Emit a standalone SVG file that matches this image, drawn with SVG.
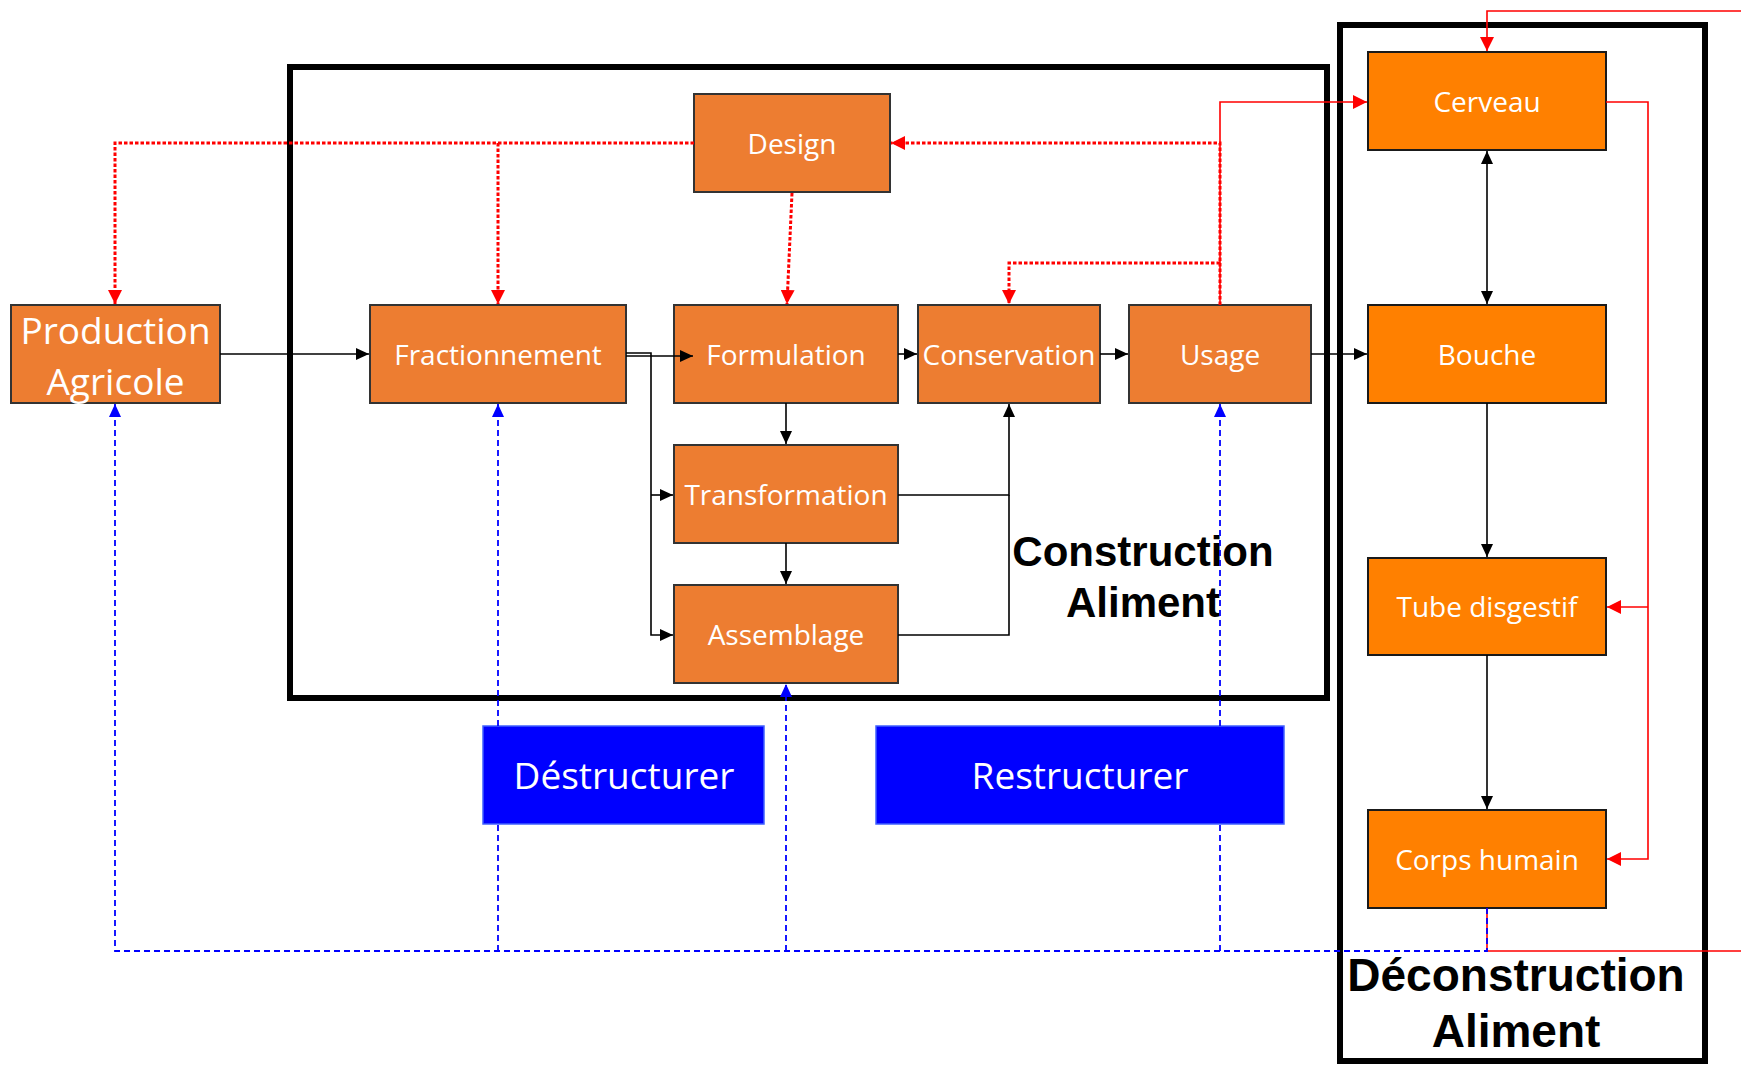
<svg xmlns="http://www.w3.org/2000/svg" width="1741" height="1065" viewBox="0 0 1741 1065">
  <style>
    .frame { fill: none; stroke: #000; stroke-width: 6; }
    .build rect { fill: #ED7D31; stroke: #333; stroke-width: 2; }
    .body rect { fill: #FF8000; stroke: #1a1a1a; stroke-width: 2; }
    .op rect { fill: #0000FF; stroke: #4060ff; stroke-width: 1.5; }
    .node text { fill: #fff; font-family: "Open Sans", "Noto Sans", sans-serif; font-size: 28px; text-anchor: middle; }
    .op text, .big { font-size: 37px !important; }
    .label { font-family: "Liberation Sans", Arial, sans-serif; font-weight: bold; fill: #000; text-anchor: middle; }
    .flow { fill: none; stroke: #000; stroke-width: 1.6; marker-end: url(#arrowK); }
    .fb { fill: none; stroke: #FF0000; stroke-width: 3; stroke-dasharray: 3.5 2; marker-end: url(#arrowR); }
    .sig { fill: none; stroke: #FF0000; stroke-width: 1.6; }
    .sig.a { marker-end: url(#arrowR); }
    .ret { fill: none; stroke: #0000FF; stroke-width: 1.8; stroke-dasharray: 6 4; }
    .ret.a { marker-end: url(#arrowB); }
  </style>
  <defs>
    <marker id="arrowK" markerUnits="userSpaceOnUse" markerWidth="13" markerHeight="12" refX="13" refY="6" orient="auto-start-reverse">
      <path d="M0,0 L13,6 L0,12 z" fill="#000"/>
    </marker>
    <marker id="arrowR" markerUnits="userSpaceOnUse" markerWidth="14" markerHeight="14" refX="14" refY="7" orient="auto">
      <path d="M0,0 L14,7 L0,14 z" fill="#FF0000"/>
    </marker>
    <marker id="arrowB" markerUnits="userSpaceOnUse" markerWidth="13" markerHeight="12" refX="13" refY="6" orient="auto">
      <path d="M0,0 L13,6 L0,12 z" fill="#0000FF"/>
    </marker>
  </defs>

  <rect width="1741" height="1065" fill="#fff"/>

  <!-- stage frames -->
  <g id="frame-construction">
    <rect class="frame" x="290" y="67" width="1037" height="631"/>
    <text class="label" font-size="42" x="1143" y="566">Construction</text>
    <text class="label" font-size="42" x="1143" y="617">Aliment</text>
  </g>
  <g id="frame-deconstruction">
    <rect class="frame" x="1340" y="25" width="365" height="1036"/>
    <text class="label" font-size="46" x="1516" y="991">Déconstruction</text>
    <text class="label" font-size="46" x="1516" y="1047">Aliment</text>
  </g>

  <!-- process nodes -->
  <g id="production" class="node build">
    <rect x="11" y="305" width="209" height="98"/>
    <text class="big" x="115.5" y="344">Production</text>
    <text class="big" x="115.5" y="395">Agricole</text>
  </g>
  <g id="fractionnement" class="node build">
    <rect x="370" y="305" width="256" height="98"/>
    <text x="498" y="365">Fractionnement</text>
  </g>
  <g id="design" class="node build">
    <rect x="694" y="94" width="196" height="98"/>
    <text x="792" y="154">Design</text>
  </g>
  <g id="formulation" class="node build">
    <rect x="674" y="305" width="224" height="98"/>
    <text x="786" y="365">Formulation</text>
  </g>
  <g id="conservation" class="node build">
    <rect x="918" y="305" width="182" height="98"/>
    <text x="1009" y="365">Conservation</text>
  </g>
  <g id="usage" class="node build">
    <rect x="1129" y="305" width="182" height="98"/>
    <text x="1220" y="365">Usage</text>
  </g>
  <g id="transformation" class="node build">
    <rect x="674" y="445" width="224" height="98"/>
    <text x="786" y="505">Transformation</text>
  </g>
  <g id="assemblage" class="node build">
    <rect x="674" y="585" width="224" height="98"/>
    <text x="786" y="645">Assemblage</text>
  </g>

  <g id="cerveau" class="node body">
    <rect x="1368" y="52" width="238" height="98"/>
    <text x="1487" y="112">Cerveau</text>
  </g>
  <g id="bouche" class="node body">
    <rect x="1368" y="305" width="238" height="98"/>
    <text x="1487" y="365">Bouche</text>
  </g>
  <g id="tube" class="node body">
    <rect x="1368" y="558" width="238" height="97"/>
    <text x="1487" y="617">Tube disgestif</text>
  </g>
  <g id="corps" class="node body">
    <rect x="1368" y="810" width="238" height="98"/>
    <text x="1487" y="870">Corps humain</text>
  </g>

  <g id="destructurer" class="node op">
    <rect x="483" y="726" width="281" height="98"/>
    <text x="624" y="789">Déstructurer</text>
  </g>
  <g id="restructurer" class="node op">
    <rect x="876" y="726" width="408" height="98"/>
    <text x="1080" y="789">Restructurer</text>
  </g>

  <!-- connectors -->
  <g id="connectors">
    <!-- main food flow -->
    <path class="flow" d="M220,354 H369"/>
    <path class="flow" d="M626,353 H651 V635 H673"/>
    <path class="flow" d="M651,495 H673"/>
    <path class="flow" d="M626,356 H693"/>
    <path class="flow" d="M898,354 H917"/>
    <path class="flow" d="M1100,354 H1128"/>
    <path class="flow" d="M1311,354 H1367"/>
    <path class="flow" d="M786,403 V444"/>
    <path class="flow" d="M786,543 V584"/>
    <path class="flow" d="M898,495 H1009 V404"/>
    <path class="flow" d="M898,635 H1009 V495" style="marker-end:none"/>
    <path class="flow" d="M1487,151 V304" style="marker-start:url(#arrowK)"/>
    <path class="flow" d="M1487,403 V557"/>
    <path class="flow" d="M1487,655 V809"/>

    <!-- design feedback (dotted) -->
    <path class="fb" d="M694,143 H115 V304"/>
    <path class="fb" d="M498,143 V304"/>
    <path class="fb" d="M792,193 L787,304"/>
    <path class="fb" d="M1220,305 V143 H891"/>
    <path class="fb" d="M1220,263 H1009 V304"/>

    <!-- body signals (solid red) -->
    <path class="sig a" d="M1220,305 V102 H1367"/>
    <path class="sig a" d="M1741,11 H1487 V51"/>
    <path class="sig a" d="M1606,102 H1648 V859 H1607"/>
    <path class="sig a" d="M1648,607 H1607"/>
    <path class="sig" d="M1487,908 V951 H1741"/>

    <!-- return loop (dashed blue) -->
    <path class="ret a" d="M1487,908 V951 H115 V404"/>
    <path class="ret" d="M498,951 V824"/>
    <path class="ret a" d="M498,726 V404"/>
    <path class="ret a" d="M786,951 V684"/>
    <path class="ret" d="M1220,951 V824"/>
    <path class="ret a" d="M1220,726 V404"/>
  </g>
</svg>
